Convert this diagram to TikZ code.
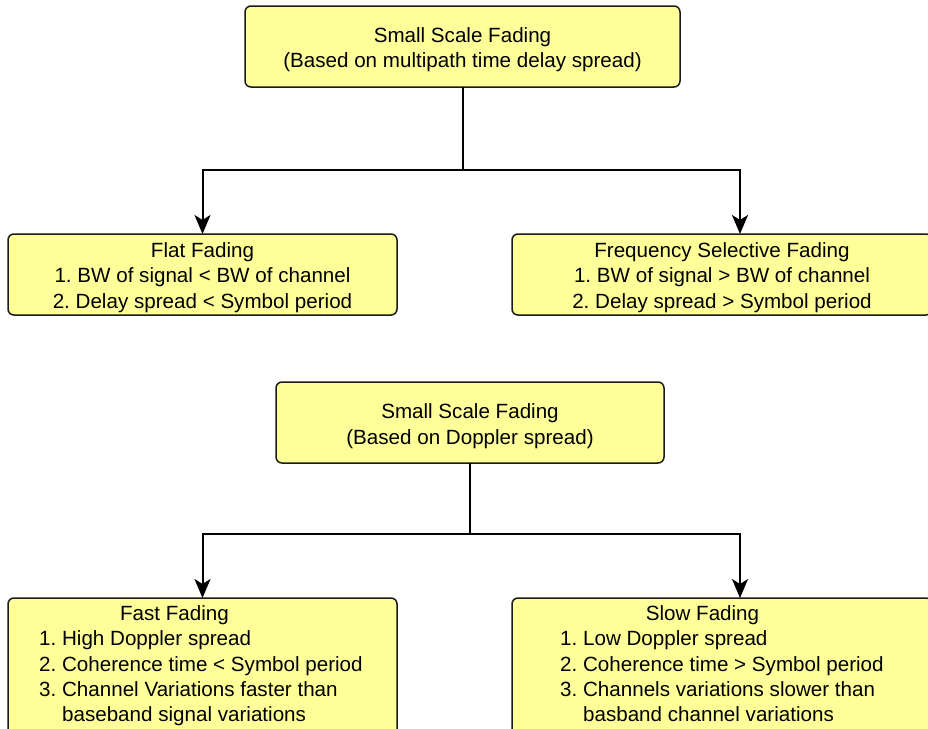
\documentclass[tikz,border=0pt]{standalone}
\usepackage{fontspec}
\setmainfont{Liberation Sans}
\usetikzlibrary{arrows.meta}
\definecolor{boxfill}{HTML}{FFFF99}
\definecolor{boxedge}{HTML}{1A1A1A}
\frenchspacing

\begin{document}
\begin{tikzpicture}[x=1pt,y=-1pt,
  box/.style={draw=boxedge, line width=1.5pt, fill=boxfill, rounded corners=6pt,
              inner sep=0pt, outer sep=0pt},
  txt/.style={font=\fontsize{20.6}{25.4}\selectfont, inner sep=0pt, align=center},
  listtxt/.style={txt, align=left, anchor=north west},
  link/.style={draw=black, line width=2pt},
  arr/.style={link, -{Stealth[length=19pt,width=16pt,inset=5pt]}}]

\useasboundingbox (0,0) rectangle (928,728);
\clip (0,0) rectangle (928,728);

% boxes
\node[box, minimum width=435, minimum height=81] (top)  at (462.5,46.5)  {};
\node[box, minimum width=389, minimum height=81] (flat) at (202.5,274.5) {};
\node[box, minimum width=420, minimum height=81] (freq) at (722,274.5)   {};
\node[box, minimum width=388, minimum height=81] (dopp) at (470,422.5)   {};
\node[box, minimum width=389, minimum height=162] (fast) at (202.5,679)  {};
\node[box, minimum width=420, minimum height=162] (slow) at (722,679)    {};

% texts
\node[txt] (toptext)  at (462.5,49.5)  {Small Scale Fading\\(Based on multipath time delay spread)};
\node[txt] (flattext) at (202.5,277.5) {Flat Fading\\1. BW of signal < BW of channel\\2. Delay spread < Symbol period};
\node[txt] (freqtext) at (722,277.5) {Frequency Selective Fading\\1. BW of signal > BW of channel\\2. Delay spread > Symbol period};
\node[txt] (dopptext) at (470,426) {Small Scale Fading\\(Based on Doppler spread)};

\node[txt, anchor=base] (fasttitle) at (174.5,620) {Fast Fading};
\node[listtxt] (fastlist) at (39,630.5) {1. High Doppler spread\\2. Coherence time < Symbol period\\3. Channel Variations faster than\\\hphantom{3. }baseband signal variations};
\node[txt, anchor=base] (slowtitle) at (702.5,620) {Slow Fading};
\node[listtxt] (slowlist) at (560,630.5) {1. Low Doppler spread\\2. Coherence time > Symbol period\\3. Channels variations slower than\\\hphantom{3. }basband channel variations};

% connectors
\coordinate (j1) at (462.5,170);
\draw[link] (top.south) -- (j1);
\draw[arr] (j1) -| (flat.north);
\draw[arr] (j1) -| ([xshift=18pt]freq.north);

\coordinate (j2) at (470,534);
\draw[link] (dopp.south) -- (j2);
\draw[arr] (j2) -| (fast.north);
\draw[arr] (j2) -| ([xshift=18pt]slow.north);
\end{tikzpicture}
\end{document}
